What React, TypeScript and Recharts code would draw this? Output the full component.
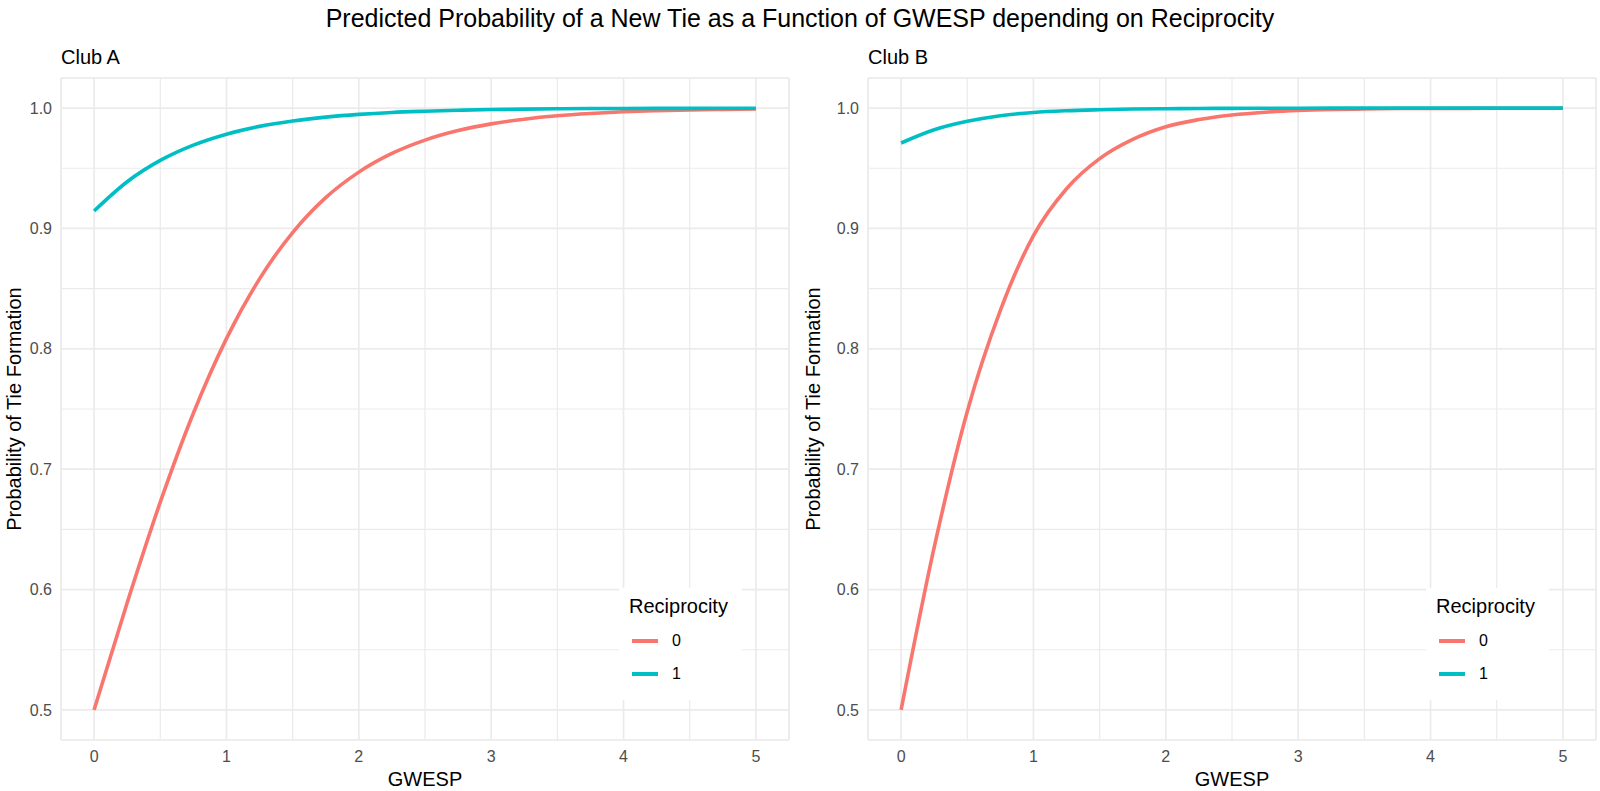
import React from 'react';
import { LineChart, Line, XAxis, YAxis, CartesianGrid, Legend } from 'recharts';

// GWESP values on the x axis
const GWESP = [0, 0.25, 0.5, 0.75, 1, 1.25, 1.5, 1.75, 2, 2.25, 2.5, 2.75, 3, 3.25, 3.5, 3.75, 4, 4.25, 4.5, 4.75, 5];

// predicted probabilities
const CLUB_A_RECIP_0 = [0.5, 0.589, 0.6726, 0.7465, 0.8085, 0.8581, 0.8966, 0.9256, 0.9468, 0.9623, 0.9734, 0.9813, 0.9869, 0.9908, 0.9936, 0.9955, 0.9969, 0.9978, 0.9985, 0.9989, 0.9993];
const CLUB_A_RECIP_1 = [0.9145, 0.9388, 0.9565, 0.9692, 0.9783, 0.9848, 0.9893, 0.9925, 0.9948, 0.9964, 0.9974, 0.9982, 0.9988, 0.9991, 0.9994, 0.9996, 0.9997, 0.9998, 0.9998, 0.9999, 0.9999];
const CLUB_B_RECIP_0 = [0.5, 0.635, 0.748, 0.832, 0.894, 0.933, 0.958, 0.974, 0.9845, 0.9905, 0.9943, 0.9966, 0.998, 0.9988, 0.9993, 0.9996, 0.9997, 0.9998, 0.9999, 0.9999, 0.9999];
const CLUB_B_RECIP_1 = [0.971, 0.982, 0.989, 0.9937, 0.9964, 0.9978, 0.9986, 0.9992, 0.9995, 0.9997, 0.9998, 0.9999, 0.9999, 1.0, 1.0, 1.0, 1.0, 1.0, 1.0, 1.0, 1.0];

const X_TICKS = [0, 1, 2, 3, 4, 5];
const X_MINOR = [0.5, 1.5, 2.5, 3.5, 4.5];
const Y_TICKS = [0.5, 0.6, 0.7, 0.8, 0.9, 1.0];
const Y_MINOR = [0.55, 0.65, 0.75, 0.85, 0.95];

const RECIPROCITY = ['0', '1'];
const COLORS = ['#F8766D', '#00BFC4'];

const TITLE = 'Predicted Probability of a New Tie as a Function of GWESP depending on Reciprocity';
const FONT = '"Liberation Sans", Arial, Helvetica, sans-serif';
const GRID = '#EBEBEB';

function ReciprocityLegend(props: { payload?: { value: string; color: string }[] }) {
  const items = props.payload || [];
  return (
    <div style={s.legend}>
      <div style={s.legendTitle}>Reciprocity</div>
      {items.map((p, i) => (
        <div key={p.value} style={{ ...s.legendRow, marginTop: i === 0 ? 7 : 0 }}>
          <span style={{ ...s.legendKey, background: p.color }} />
          <span style={s.legendLabel}>{p.value}</span>
        </div>
      ))}
    </div>
  );
}

function Panel(props: {
  title: string;
  left: number;
  yAxisWidth: number;
  marginRight: number;
  labelOffset: number;
  recip0: number[];
  recip1: number[];
}) {
  const { title, left, yAxisWidth, marginRight, labelOffset, recip0, recip1 } = props;
  const data = GWESP.map((x, i) => ({ x, r0: recip0[i], r1: recip1[i] }));

  return (
    <div style={{ position: 'absolute', left, top: 0, width: 800, height: 791 }}>
      <div style={{ ...s.panelTitle, left: yAxisWidth }}>{title}</div>
      <LineChart width={800} height={791} data={data} margin={{ top: 78, right: marginRight, bottom: 0, left: 0 }}>
        <XAxis xAxisId="minor" dataKey="x" type="number" domain={[-0.25, 5.25]} ticks={X_MINOR} hide allowDataOverflow />
        <YAxis yAxisId="minor" type="number" domain={[0.475, 1.025]} ticks={Y_MINOR} hide allowDataOverflow />
        <CartesianGrid xAxisId="minor" yAxisId="minor" stroke={GRID} strokeWidth={1.2} />
        <CartesianGrid stroke={GRID} strokeWidth={1.7} />
        <XAxis
          dataKey="x"
          type="number"
          domain={[-0.25, 5.25]}
          ticks={X_TICKS}
          allowDataOverflow
          axisLine={false}
          tickLine={false}
          tickSize={0}
          tickMargin={11}
          height={51}
          tick={{ fontSize: 16, fill: '#4D4D4D' }}
          label={{ value: 'GWESP', position: 'insideBottom', offset: 5, style: { fontSize: 20, fill: '#000' } }}
        />
        <YAxis
          type="number"
          domain={[0.475, 1.025]}
          ticks={Y_TICKS}
          allowDataOverflow
          axisLine={false}
          tickLine={false}
          tickSize={0}
          tickMargin={9}
          width={yAxisWidth}
          tickFormatter={(v: number) => v.toFixed(1)}
          tick={{ fontSize: 16, fill: '#4D4D4D' }}
          label={{
            value: 'Probability of Tie Formation',
            angle: -90,
            position: 'insideLeft',
            offset: labelOffset,
            style: { fontSize: 20, fill: '#000', textAnchor: 'middle' },
          }}
        />
        <Line type="monotone" dataKey="r0" name={RECIPROCITY[0]} stroke={COLORS[0]} strokeWidth={3.6} dot={false} isAnimationActive={false} />
        <Line type="monotone" dataKey="r1" name={RECIPROCITY[1]} stroke={COLORS[1]} strokeWidth={3.6} dot={false} isAnimationActive={false} />
        <Legend
          layout="vertical"
          align="center"
          verticalAlign="middle"
          content={<ReciprocityLegend />}
          wrapperStyle={{ left: yAxisWidth + 558, top: 588, width: 123, height: 112 }}
        />
      </LineChart>
    </div>
  );
}

export default function App() {
  return (
    <div style={s.page}>
      <div style={s.title}>{TITLE}</div>
      <Panel title="Club A" left={0} yAxisWidth={61} marginRight={11} labelOffset={14} recip0={CLUB_A_RECIP_0} recip1={CLUB_A_RECIP_1} />
      <Panel title="Club B" left={800} yAxisWidth={68} marginRight={4} labelOffset={13} recip0={CLUB_B_RECIP_0} recip1={CLUB_B_RECIP_1} />
    </div>
  );
}

const s: Record<string, React.CSSProperties> = {
  page: {
    position: 'absolute',
    left: 0,
    top: 0,
    width: 1600,
    height: 791,
    background: '#FFFFFF',
    fontFamily: FONT,
    overflow: 'hidden',
  },
  title: {
    position: 'absolute',
    left: 0,
    top: 4,
    width: 1600,
    textAlign: 'center',
    fontSize: 25,
    lineHeight: '28px',
    color: '#000',
  },
  panelTitle: {
    position: 'absolute',
    top: 45,
    fontSize: 20,
    lineHeight: '24px',
    color: '#000',
    zIndex: 2,
  },
  legend: {
    background: '#FFFFFF',
    width: 123,
    height: 112,
    boxSizing: 'border-box',
    padding: '7px 0 0 10px',
    fontFamily: FONT,
  },
  legendTitle: {
    fontSize: 20,
    lineHeight: '22px',
    color: '#000',
  },
  legendRow: {
    display: 'flex',
    alignItems: 'center',
    height: 33,
  },
  legendKey: {
    display: 'inline-block',
    width: 26,
    height: 4,
    marginLeft: 3,
  },
  legendLabel: {
    marginLeft: 14,
    fontSize: 16,
    color: '#000',
  },
};
